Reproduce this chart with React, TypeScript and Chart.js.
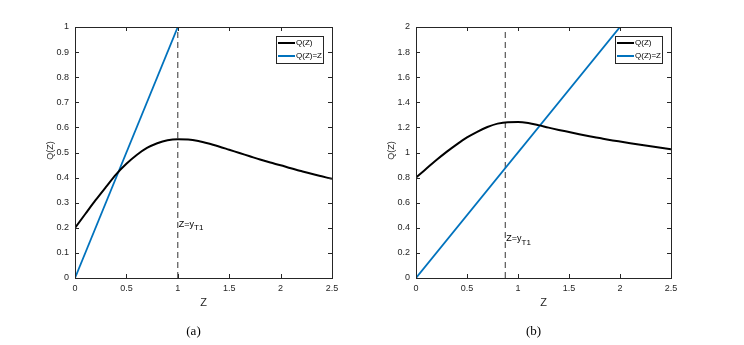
import React, { useEffect, useRef } from "react";
import { Chart, registerables } from "chart.js";

Chart.register(...registerables);

// ---- Data ----
const zValues = [0, 0.1, 0.2, 0.3, 0.4, 0.5, 0.6, 0.7, 0.8, 0.9, 1.0, 1.1, 1.2, 1.3, 1.4, 1.5, 1.6, 1.7, 1.8, 1.9, 2.0, 2.1, 2.2, 2.3, 2.4, 2.5];
const qA = [0.2, 0.255, 0.31, 0.362, 0.413, 0.455, 0.49, 0.518, 0.537, 0.549, 0.553, 0.552, 0.546, 0.536, 0.524, 0.511, 0.498, 0.485, 0.472, 0.46, 0.449, 0.437, 0.426, 0.415, 0.405, 0.395];
const qB = [0.8, 0.87, 0.94, 1.005, 1.065, 1.12, 1.165, 1.203, 1.23, 1.242, 1.243, 1.235, 1.218, 1.198, 1.18, 1.163, 1.146, 1.13, 1.115, 1.1, 1.087, 1.074, 1.061, 1.049, 1.037, 1.025];
const identityA = [0, 1];
const identityB = [0, 2];
const thresholdA = 1.0;
const thresholdB = 0.875;
const labelYA = 0.215;
const labelYB = 0.315;
const xTicks = [0, 0.5, 1, 1.5, 2, 2.5];
const yTicksA = [0, 0.1, 0.2, 0.3, 0.4, 0.5, 0.6, 0.7, 0.8, 0.9, 1];
const yTicksB = [0, 0.2, 0.4, 0.6, 0.8, 1, 1.2, 1.4, 1.6, 1.8, 2];
const legendLabels = ["Q(Z)", "Q(Z)=Z"];
const seriesColors = ["#000000", "#0072BD"];

const AXIS_COLOR = "#262626";
const SANS = "'Liberation Sans', Arial, sans-serif";
const SERIF = "'Liberation Serif', 'Times New Roman', serif";

type PanelCfg = {
  q: number[];
  identity: number[];
  threshold: number;
  labelY: number;
  yTicks: number[];
  yMax: number;
  caption: string;
  padLeft: number;
  padRight: number;
  canvasLeft: number;
};

const Y_W = 30;
const X_H = 20;
const W = 372;
const H = 345;

const fmt = (v: number | string) => String(Math.round(Number(v) * 100) / 100);

const decorPlugin = {
  id: "decor",
  afterDraw(chart: any, _args: any, opts: any) {
    const ctx = chart.ctx as CanvasRenderingContext2D;
    const a = chart.chartArea;
    const xs = chart.scales.x;
    const ys = chart.scales.y;
    ctx.save();
    // box
    ctx.strokeStyle = AXIS_COLOR;
    ctx.lineWidth = 1;
    ctx.strokeRect(Math.round(a.left) + 0.5, Math.round(a.top) + 0.5, Math.round(a.right - a.left), Math.round(a.bottom - a.top));
    // inward ticks
    const tl = 4;
    ctx.beginPath();
    xs.ticks.forEach((t: any) => {
      const px = Math.round(xs.getPixelForValue(t.value)) + 0.5;
      ctx.moveTo(px, a.bottom);
      ctx.lineTo(px, a.bottom - tl);
      ctx.moveTo(px, a.top);
      ctx.lineTo(px, a.top + tl);
    });
    ys.ticks.forEach((t: any) => {
      const py = Math.round(ys.getPixelForValue(t.value)) + 0.5;
      ctx.moveTo(a.left, py);
      ctx.lineTo(a.left + tl, py);
      ctx.moveTo(a.right, py);
      ctx.lineTo(a.right - tl, py);
    });
    ctx.stroke();

    // y title
    ctx.fillStyle = AXIS_COLOR;
    ctx.font = `9px ${SANS}`;
    ctx.textAlign = "center";
    ctx.textBaseline = "middle";
    ctx.save();
    ctx.translate(a.left - 24, (a.top + a.bottom) / 2 - 2);
    ctx.rotate(-Math.PI / 2);
    ctx.fillText("Q(Z)", 0, 0);
    ctx.restore();

    // x title
    ctx.font = `11px ${SANS}`;
    ctx.fillText("Z", (a.left + a.right) / 2, a.bottom + 25);

    // caption
    ctx.fillStyle = "#000";
    ctx.font = `13px ${SERIF}`;
    ctx.fillText(opts.caption, (a.left + a.right) / 2 - 10, a.bottom + 54);

    // annotation Z=y_T1
    const ax = xs.getPixelForValue(opts.threshold) + 1;
    const ay = ys.getPixelForValue(opts.labelY);
    ctx.textAlign = "left";
    ctx.font = `9px ${SANS}`;
    ctx.fillStyle = "#000";
    ctx.fillText("Z=y", ax, ay);
    const w = ctx.measureText("Z=y").width;
    ctx.font = `8px ${SANS}`;
    ctx.fillText("T1", ax + w, ay + 4);

    // legend
    const lw = 47;
    const lh = 27;
    const lx = Math.round(a.right) - 9 - lw;
    const ly = Math.round(a.top) + 9;
    ctx.fillStyle = "#fff";
    ctx.fillRect(lx, ly, lw, lh);
    ctx.strokeStyle = AXIS_COLOR;
    ctx.lineWidth = 1;
    ctx.strokeRect(lx + 0.5, ly + 0.5, lw, lh);
    ctx.font = `8px ${SANS}`;
    ctx.textBaseline = "middle";
    legendLabels.forEach((lab, i) => {
      const ry = ly + 7 + i * 13;
      ctx.strokeStyle = seriesColors[i];
      ctx.lineWidth = 2;
      ctx.beginPath();
      ctx.moveTo(lx + 2, ry);
      ctx.lineTo(lx + 19, ry);
      ctx.stroke();
      ctx.fillStyle = "#000";
      ctx.fillText(lab, lx + 20, ry);
    });
    ctx.restore();
  },
};

function Panel({ cfg }: { cfg: PanelCfg }) {
  const ref = useRef<HTMLCanvasElement>(null);
  useEffect(() => {
    if (!ref.current) return;
    const chart = new Chart(ref.current, {
      type: "line",
      data: {
        datasets: [
          {
            label: legendLabels[0],
            data: zValues.map((z, i) => ({ x: z, y: cfg.q[i] })),
            borderColor: seriesColors[0],
            borderWidth: 2,
            pointRadius: 0,
            tension: 0.4,
            cubicInterpolationMode: "monotone",
          },
          {
            label: legendLabels[1],
            data: cfg.identity.map((v) => ({ x: v, y: v })),
            borderColor: seriesColors[1],
            borderWidth: 1.8,
            pointRadius: 0,
          },
          {
            label: "threshold",
            data: [
              { x: cfg.threshold, y: 0 },
              { x: cfg.threshold, y: cfg.yMax },
            ],
            borderColor: "#333",
            borderWidth: 1,
            borderDash: [6, 4],
            pointRadius: 0,
          },
        ],
      },
      options: {
        animation: false,
        responsive: false,
        devicePixelRatio: 1,
        layout: {
          padding: { left: cfg.padLeft, right: cfg.padRight, top: 27, bottom: H - 278 - X_H },
        },
        plugins: {
          legend: { display: false },
          tooltip: { enabled: false },
          decor: { caption: cfg.caption, threshold: cfg.threshold, labelY: cfg.labelY },
        } as any,
        scales: {
          x: {
            type: "linear",
            min: 0,
            max: 2.5,
            afterBuildTicks: (s: any) => {
              s.ticks = xTicks.map((v) => ({ value: v }));
            },
            afterFit: (s: any) => {
              s.height = X_H;
            },
            grid: { display: false, drawTicks: false },
            border: { display: false },
            ticks: { padding: 5, color: AXIS_COLOR, font: { family: SANS, size: 9 }, maxRotation: 0, autoSkip: false, callback: fmt },
          },
          y: {
            type: "linear",
            min: 0,
            max: cfg.yMax,
            afterBuildTicks: (s: any) => {
              s.ticks = cfg.yTicks.map((v) => ({ value: v }));
            },
            afterFit: (s: any) => {
              s.width = Y_W;
            },
            grid: { display: false, drawTicks: false },
            border: { display: false },
            ticks: { padding: 6, color: AXIS_COLOR, font: { family: SANS, size: 9 }, autoSkip: false, callback: fmt },
          },
        },
      },
      plugins: [decorPlugin],
    });
    return () => chart.destroy();
  }, [cfg]);
  return (
    <canvas
      ref={ref}
      width={W}
      height={H}
      style={{ position: "absolute", left: cfg.canvasLeft, top: 0, width: W, height: H }}
    />
  );
}

const panelA: PanelCfg = {
  q: qA,
  identity: identityA,
  threshold: thresholdA,
  labelY: labelYA,
  yTicks: yTicksA,
  yMax: 1,
  caption: "(a)",
  padLeft: 75 - Y_W,
  padRight: W - 332,
  canvasLeft: 0,
};

const panelB: PanelCfg = {
  q: qB,
  identity: identityB,
  threshold: thresholdB,
  labelY: labelYB,
  yTicks: yTicksB,
  yMax: 2,
  caption: "(b)",
  padLeft: 416 - W - Y_W,
  padRight: W - (671 - W),
  canvasLeft: W,
};

export default function App() {
  return (
    <div style={{ position: "fixed", left: 0, top: 0, width: 744, height: 345, background: "#fff" }}>
      <Panel cfg={panelA} />
      <Panel cfg={panelB} />
    </div>
  );
}
